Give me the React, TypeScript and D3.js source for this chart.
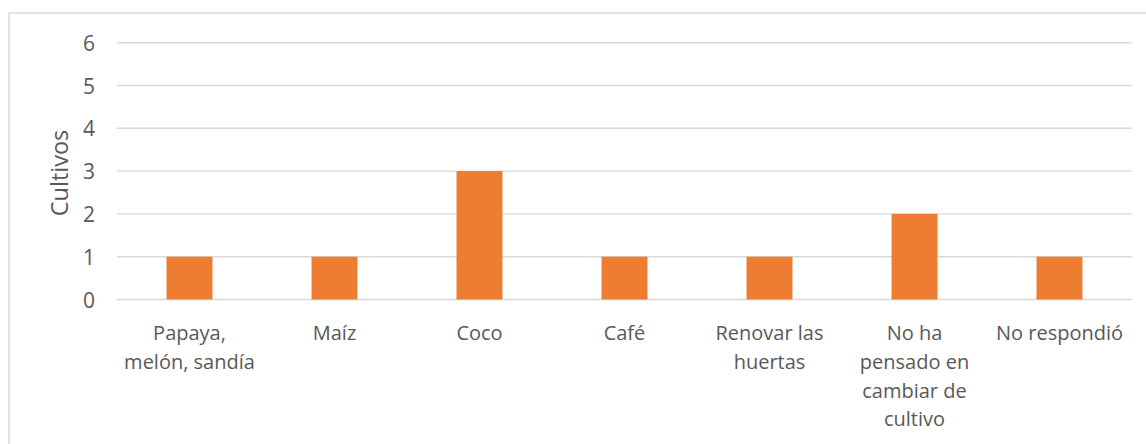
import React from "react";
import * as d3 from "d3";

const categories = [
  "Papaya, melón, sandía",
  "Maíz",
  "Coco",
  "Café",
  "Renovar las huertas",
  "No ha pensado en cambiar de cultivo",
  "No respondió",
];
const categoryLines = [
  ["Papaya,", "melón, sandía"],
  ["Maíz"],
  ["Coco"],
  ["Café"],
  ["Renovar las", "huertas"],
  ["No ha", "pensado en", "cambiar de", "cultivo"],
  ["No respondió"],
];
const values = [1, 1, 3, 1, 1, 2, 1];
const yTicks = [0, 1, 2, 3, 4, 5, 6];
const yTitle = "Cultivos";

const W = 1146;
const H = 444;
const FONT = "'Open Sans', 'Noto Sans', sans-serif";
const TEXT = "#595959";

export default function App() {
  const x = d3
    .scaleBand<string>()
    .domain(categories)
    .range([117, 1132])
    .paddingInner(0.683)
    .paddingOuter(0.3415);
  const y = d3.scaleLinear().domain([0, 6]).range([299.5, 42.7]);

  return (
    <svg
      width={W}
      height={H}
      style={{ position: "absolute", left: 0, top: 0, background: "#fff" }}
    >
      <rect x={0} y={0} width={W} height={H} fill="#fff" />
      <rect
        x={9}
        y={13}
        width={1160}
        height={460}
        fill="none"
        stroke="#d9d9d9"
        strokeWidth={1.5}
      />
      {yTicks.map((t) => (
        <g key={t}>
          <line
            x1={117}
            x2={1132}
            y1={y(t)}
            y2={y(t)}
            stroke="#d9d9d9"
            strokeWidth={1.4}
          />
          <text
            x={95}
            y={y(t)}
            textAnchor="end"
            dominantBaseline="central"
            fontFamily={FONT}
            fontSize={21}
            fill={TEXT}
          >
            {t}
          </text>
        </g>
      ))}
      {categories.map((c, i) => (
        <rect
          key={c}
          x={x(c)}
          y={y(values[i])}
          width={x.bandwidth()}
          height={y(0) - y(values[i])}
          fill="#ED7D31"
        />
      ))}
      {categories.map((c, i) => (
        <text
          key={c}
          textAnchor="middle"
          fontFamily={FONT}
          fontSize={20}
          fill={TEXT}
        >
          {categoryLines[i].map((ln, j) => (
            <tspan key={j} x={(x(c) as number) + x.bandwidth() / 2} y={340 + j * 28.8}>
              {ln}
            </tspan>
          ))}
        </text>
      ))}
      <text
        transform={`translate(68,173) rotate(-90)`}
        textAnchor="middle"
        fontFamily={FONT}
        fontSize={23.5}
        fill={TEXT}
      >
        {yTitle}
      </text>
    </svg>
  );
}
